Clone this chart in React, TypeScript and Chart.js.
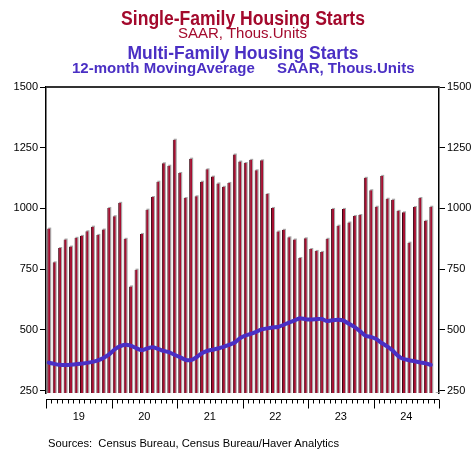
import React, { useEffect, useRef } from "react";
import { Chart, registerables } from "chart.js";

Chart.register(...registerables);

const YEARS = ["19", "20", "21", "22", "23", "24"];
const MONTHS_PER_YEAR = 12;
const CATEGORIES: string[] = [];
YEARS.forEach((y) => {
  for (let m = 1; m <= MONTHS_PER_YEAR; m++) CATEGORIES.push(`${m}/${y}`);
});

// Single-family starts, SAAR thous. units (Jan 2019 - Nov 2024)
const SINGLE_FAMILY: (number | null)[] = [
  917, 778, 837, 872, 843, 879, 887, 906, 925, 891, 913, 1002,
  968, 1023, 875, 679, 748, 895, 995, 1047, 1110, 1186, 1176, 1283,
  1146, 1043, 1205, 1050, 1110, 1161, 1131, 1103, 1089, 1105, 1222, 1193,
  1187, 1200, 1157, 1198, 1059, 1002, 905, 912, 881, 872, 796, 877,
  833, 825, 821, 875, 998, 929, 998, 942, 969, 973, 1126, 1075,
  1007, 1134, 1040, 1036, 990, 984, 859, 1006, 1043, 949, 1007, null,
];

// Multi-family starts, 12-month moving average, SAAR thous. units
const MULTI_FAMILY_MA: (number | null)[] = [
  365, 360, 356, 355, 356, 358, 361, 364, 368, 374, 384, 398,
  418, 432, 439, 435, 425, 416, 423, 428, 422, 414, 408, 398,
  388, 377, 375, 386, 403, 413, 418, 423, 430, 438, 447, 465,
  476, 483, 492, 502, 506, 510, 512, 520, 530, 538, 548, 544,
  543, 544, 545, 536, 540, 542, 538, 525, 512, 495, 476, 471,
  462, 446, 432, 415, 393, 380, 375, 371, 366, 362, 356, null,
];

const Y_TICKS = [250, 500, 750, 1000, 1250, 1500];
const Y_MIN = 240;
const Y_MAX = 1500;

const RED = "#a3092c";
const BLUE = "#4a2fc4";

const frameAndAxisPlugin = {
  id: "frameAndAxis",
  beforeDatasetsDraw(chart: any) {
    const { ctx, chartArea } = chart;
    const meta = chart.getDatasetMeta(0);
    ctx.save();
    ctx.fillStyle = "#a8a8a8";
    meta.data.forEach((el: any) => {
      if (el.skip || el.y == null || isNaN(el.y)) return;
      const w = el.width;
      const bottom = Math.min(el.base, chartArea.bottom);
      ctx.fillRect(el.x - w / 2 + 1, el.y - 1, w, bottom - el.y + 1);
    });
    ctx.restore();
  },
  afterDraw(chart: any) {
    const { ctx, chartArea } = chart;
    const xs = chart.scales.x;
    ctx.save();
    // top frame
    ctx.strokeStyle = "#333";
    ctx.lineWidth = 2;
    ctx.beginPath();
    ctx.moveTo(chartArea.left, chartArea.top);
    ctx.lineTo(chartArea.right, chartArea.top);
    ctx.stroke();
    // detached x axis
    const ay = chartArea.bottom + 6.5;
    ctx.strokeStyle = "#000";
    ctx.lineWidth = 1;
    ctx.beginPath();
    ctx.moveTo(chartArea.left, ay);
    ctx.lineTo(chartArea.right, ay);
    const n = CATEGORIES.length;
    for (let i = 0; i <= n; i++) {
      let x: number;
      if (i === 0) x = chartArea.left;
      else if (i === n) x = chartArea.right;
      else x = (xs.getPixelForValue(i - 1) + xs.getPixelForValue(i)) / 2;
      x = Math.round(x) + 0.5;
      const len = i % MONTHS_PER_YEAR === 0 ? 9 : 4;
      ctx.moveTo(x, ay);
      ctx.lineTo(x, ay + len);
    }
    ctx.stroke();
    ctx.restore();
  },
};

function App() {
  const ref = useRef<HTMLCanvasElement | null>(null);

  useEffect(() => {
    if (!ref.current) return;
    const yCommon = {
      type: "linear" as const,
      min: Y_MIN,
      max: Y_MAX,
      afterBuildTicks: (scale: any) => {
        scale.ticks = Y_TICKS.map((v) => ({ value: v }));
      },
      grid: { drawOnChartArea: false, drawTicks: true, tickLength: 6, tickColor: "#000", tickWidth: 1 },
      border: { display: true, color: "#000", width: 1.5 },
      ticks: {
        padding: 2,
        color: "#000",
        font: { family: "'Liberation Sans', Arial, sans-serif", size: 11 },
        callback: (v: any) => String(v),
      },
    };
    const chart = new Chart(ref.current, {
      type: "bar",
      data: {
        labels: CATEGORIES,
        datasets: [
          {
            type: "bar",
            data: SINGLE_FAMILY,
            backgroundColor: "#a50e30",
            borderColor: "#3a0410",
            borderWidth: { left: 1, right: 0, top: 0, bottom: 0 },
            borderSkipped: false,
            barPercentage: 0.55,
            categoryPercentage: 1,
            yAxisID: "y",
            order: 2,
          } as any,
          {
            type: "line",
            data: MULTI_FAMILY_MA,
            borderColor: BLUE,
            borderWidth: 4,
            pointRadius: 0,
            tension: 0.2,
            borderCapStyle: "round",
            borderJoinStyle: "round",
            yAxisID: "y",
            order: 1,
          } as any,
        ],
      },
      options: {
        animation: false,
        responsive: false,
        maintainAspectRatio: false,
        layout: { padding: { top: 87, left: 0, right: 0, bottom: 0 } },
        plugins: { legend: { display: false }, tooltip: { enabled: false }, title: { display: false } },
        scales: {
          x: {
            type: "category",
            offset: true,
            grid: { display: false, drawTicks: false },
            border: { display: false },
            afterFit: (scale: any) => {
              scale.height = 57;
            },
            ticks: {
              autoSkip: false,
              maxRotation: 0,
              minRotation: 0,
              padding: 17,
              labelOffset: -2.73,
              color: "#000",
              font: { family: "'Liberation Sans', Arial, sans-serif", size: 11 },
              callback: (_v: any, idx: number) =>
                idx % MONTHS_PER_YEAR === 6 ? YEARS[Math.floor(idx / MONTHS_PER_YEAR)] : "",
            },
          },
          y: {
            ...yCommon,
            position: "left",
            afterFit: (scale: any) => {
              scale.width = 46;
            },
          },
          y2: {
            ...yCommon,
            position: "right",
            afterFit: (scale: any) => {
              scale.width = 32;
            },
          },
        } as any,
      },
      plugins: [frameAndAxisPlugin],
    });
    return () => chart.destroy();
  }, []);

  const base: React.CSSProperties = {
    position: "absolute",
    whiteSpace: "nowrap",
    fontFamily: "'Liberation Sans', Arial, sans-serif",
  };

  return (
    <div style={{ position: "absolute", left: 0, top: 0, width: 471, height: 450, background: "#fff", overflow: "hidden" }}>
      <canvas ref={ref} width={471} height={450} style={{ position: "absolute", left: 0, top: 0, width: 471, height: 450 }} />
      <div style={{ ...base, left: 243, top: 8.5, fontSize: 19.5, lineHeight: "19.5px", fontWeight: "bold", color: RED, transform: "translateX(-50%) scaleX(0.9)" }}>
        Single-Family Housing Starts
      </div>
      <div style={{ ...base, left: 242.5, top: 24.8, fontSize: 15, lineHeight: "15px", color: RED, transform: "translateX(-50%)" }}>
        SAAR, Thous.Units
      </div>
      <div style={{ ...base, left: 242.5, top: 42.9, fontSize: 19, lineHeight: "19px", fontWeight: "bold", color: BLUE, transform: "translateX(-50%) scaleX(0.92)" }}>
        Multi-Family Housing Starts
      </div>
      <div style={{ ...base, left: 72, top: 60.3, fontSize: 15, lineHeight: "15px", fontWeight: "bold", color: BLUE }}>
        12-month MovingAverage
      </div>
      <div style={{ ...base, left: 277, top: 60.3, fontSize: 15, lineHeight: "15px", fontWeight: "bold", color: BLUE }}>
        SAAR, Thous.Units
      </div>
      <div style={{ ...base, left: 48, top: 437.5, fontSize: 11.2, lineHeight: "11.2px", color: "#000" }}>
        Sources:&nbsp;&nbsp;Census Bureau, Census Bureau/Haver Analytics
      </div>
    </div>
  );
}

export default App;
